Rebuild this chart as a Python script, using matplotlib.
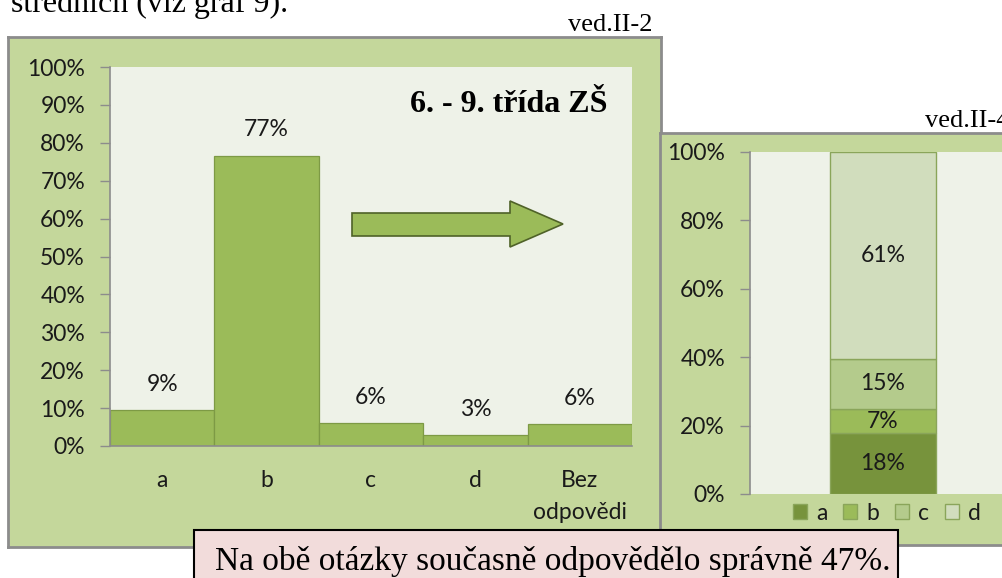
import matplotlib
matplotlib.use('Agg')
import matplotlib.pyplot as plt
from matplotlib.patches import Polygon, Rectangle

# data
kategorie = ['a', 'b', 'c', 'd', 'Bez\nodpovědi']
hodnoty = [9.4, 76.6, 6.1, 2.8, 5.8]          # % , 6. - 9. trida ZS
stack_kat = ['a', 'b', 'c', 'd']
stack_hodnoty = [18, 7, 15, 61]                 # ved.II-4
stack_barvy = ['#77933C', '#9BBB59', '#B4CB8C', '#D1DDBD']

W, H = 1002, 578
SANS = 'Lato'
SERIF = 'Liberation Serif'
FS = 16.5
panel = '#C4D79B'
plotbg = '#EEF2E8'
osa = '#8C8C8C'


def rect(x0, y0, x1, y1):
    return [x0 / W, 1 - y1 / H, (x1 - x0) / W, (y1 - y0) / H]


def fp(x, y):
    return (x / W, 1 - y / H)


fig = plt.figure(figsize=(W / 100, H / 100), dpi=100)
fig.patch.set_facecolor('white')

# text of the page
fig.text(*fp(11, 12), 'středních (viz graf 9).', family=SERIF, fontsize=23, va='baseline')
fig.text(*fp(652, 31), 'ved.II-2', family=SERIF, fontsize=19, ha='right', va='baseline')
fig.text(*fp(925, 127), 'ved.II-4', family=SERIF, fontsize=19, ha='left', va='baseline')


def panel_ax(r):
    a = fig.add_axes(r)
    a.set_facecolor(panel)
    a.set_xticks([])
    a.set_yticks([])
    for s in a.spines.values():
        s.set_color(osa)
        s.set_linewidth(2)
    return a


def style_ax(a):
    a.set_facecolor(plotbg)
    for s in ['top', 'right']:
        a.spines[s].set_visible(False)
    for s in ['left', 'bottom']:
        a.spines[s].set_color(osa)
        a.spines[s].set_linewidth(1.2)
    a.tick_params(axis='y', direction='out', length=7, width=1, color=osa,
                  labelsize=FS, labelcolor='#1A1A1A', pad=11)
    for t in a.get_yticklabels():
        t.set_family(SANS)


# ---- left chart
panel_ax(rect(8, 37, 661, 547))
ax1 = fig.add_axes(rect(110, 67, 632, 446))
x = range(len(kategorie))
ax1.bar(x, [v / 100 for v in hodnoty], width=1.0, color='#9BBB59',
        edgecolor='#7D9A45', linewidth=0.9, zorder=2)
ax1.set_xlim(-0.5, len(kategorie) - 0.5)
ax1.set_ylim(0, 1)
ax1.set_yticks([i / 10 for i in range(11)])
ax1.set_yticklabels([f'{i * 10}%' for i in range(11)])
style_ax(ax1)
ax1.set_xticks(list(x))
ax1.set_xticklabels(kategorie, family=SANS, fontsize=FS, color='#1A1A1A',
                    linespacing=1.65)
ax1.tick_params(axis='x', length=0, pad=17)
for i, v in enumerate(hodnoty):
    ax1.text(i, v / 100 + 0.068, f'{v:.0f}%', ha='center', va='center',
             family=SANS, fontsize=FS, color='#1A1A1A')

fig.text(*fp(607, 105), '6. - 9. třída ZŠ', family=SERIF, fontsize=23,
         weight='bold', ha='right', va='center')

sipka = [(352, 213), (510, 213), (510, 201), (563, 224), (510, 247), (510, 236), (352, 236)]
fig.patches.append(Polygon([fp(px, py) for px, py in sipka], closed=True,
                           transform=fig.transFigure, facecolor='#9BBB59',
                           edgecolor='#4F6228', linewidth=1.2, zorder=5))

# ---- right chart
panel_ax(rect(660, 133, 1060, 545))
ax2 = fig.add_axes(rect(750, 152, 1016, 494))
celkem = sum(stack_hodnoty)
dole = 0
for k, v, c in zip(stack_kat, stack_hodnoty, stack_barvy):
    podil = v / celkem
    ax2.bar(0, podil, bottom=dole, width=0.4, color=c, edgecolor='#8AA55A',
            linewidth=1, label=k, zorder=2)
    ax2.text(0, dole + podil / 2, f'{v}%', ha='center', va='center',
             family=SANS, fontsize=FS, color='#1A1A1A', zorder=3)
    dole += podil
ax2.set_xlim(-0.5, 0.5)
ax2.set_ylim(0, 1)
ax2.set_yticks([i / 5 for i in range(6)])
ax2.set_yticklabels([f'{i * 20}%' for i in range(6)])
style_ax(ax2)
ax2.spines['bottom'].set_visible(False)
ax2.set_xticks([])
leg = ax2.legend(loc='center', bbox_to_anchor=fp(887, 513),
                 bbox_transform=fig.transFigure, ncol=4, frameon=False,
                 prop={'family': SANS, 'size': FS}, handlelength=0.6,
                 handleheight=0.6, handletextpad=0.4, columnspacing=0.7,
                 borderpad=0)
for t in leg.get_texts():
    t.set_color('#1A1A1A')

# ---- text box
box = Rectangle(fp(194, 600), (898 - 194) / W, (600 - 530) / H,
                transform=fig.transFigure, facecolor='#F2DCDB',
                edgecolor='black', linewidth=1.5, zorder=10)
fig.patches.append(box)
fig.text(*fp(215, 570), 'Na obě otázky současně odpovědělo správně 47%.',
         family=SERIF, fontsize=24, va='baseline', zorder=11)

fig.savefig('out.png', dpi=100)
